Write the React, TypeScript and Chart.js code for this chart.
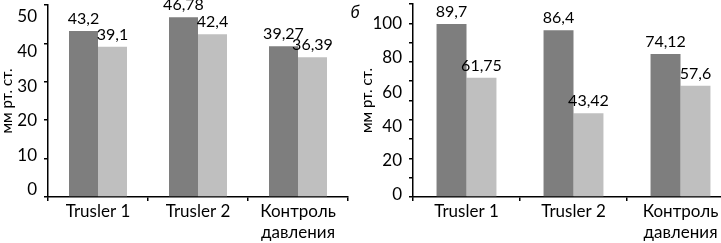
import React, { useEffect, useRef } from 'react';
import { Chart, registerables } from 'chart.js';

Chart.register(...registerables);

// ---- data ----
const categories: (string | string[])[] = ['Trusler 1', 'Trusler 2', ['Контроль', 'давления']];
const leftDark = [43.2, 46.78, 39.27];
const leftLight = [39.1, 42.4, 36.39];
const rightDark = [89.7, 86.4, 74.12];
const rightLight = [61.75, 43.42, 57.6];
const leftTickLabels = [0, 10, 20, 30, 40, 50];
const rightTickLabels = [0, 20, 40, 60, 80, 100];
const yTitle = 'мм рт. ст.';
const panelLetter = 'б';

// value ranges of the bar axes and of the (separately placed) tick label axes
const leftBarRange = { min: 0, max: 50, step: 10 };
const rightBarRange = { min: 0, max: 100, step: 10 };
const leftLabelRange = { min: -2.02, max: 53.47 };
const rightLabelRange = { min: -1.17, max: 111.3 };

const DARK = '#7e7e7e';
const LIGHT = '#bfbfbf';
const FONT = 'Lato';

const valueLabels = {
  id: 'valueLabels',
  afterDatasetsDraw(chart: any) {
    const ctx = chart.ctx;
    ctx.save();
    ctx.font = `16px ${FONT}`;
    ctx.fillStyle = '#000';
    ctx.textAlign = 'center';
    ctx.textBaseline = 'alphabetic';
    chart.data.datasets.forEach((ds: any, i: number) => {
      const meta = chart.getDatasetMeta(i);
      meta.data.forEach((el: any, j: number) => {
        const v = ds.data[j];
        ctx.fillText(String(v).replace('.', ','), el.x, el.y - 7);
      });
    });
    const letter = chart.options.plugins.panelLetter;
    if (letter && letter.text) {
      ctx.font = `italic 17px ${FONT}`;
      ctx.textAlign = 'center';
      ctx.fillText(letter.text, letter.x, letter.y);
    }
    ctx.restore();
  },
};

function buildConfig(opts: {
  dark: number[];
  light: number[];
  barRange: { min: number; max: number; step: number };
  labelRange: { min: number; max: number };
  tickLabels: number[];
  padding: any;
  outerWidth: number;
  catPct: number;
  letter?: { text: string; x: number; y: number };
}) {
  return {
    type: 'bar',
    data: {
      labels: categories,
      datasets: [
        {
          data: opts.dark,
          backgroundColor: DARK,
          borderWidth: 0,
          categoryPercentage: opts.catPct,
          barPercentage: 1.0,
          xAxisID: 'x',
          yAxisID: 'y',
        },
        {
          data: opts.light,
          backgroundColor: LIGHT,
          borderWidth: 0,
          categoryPercentage: opts.catPct,
          barPercentage: 1.0,
          xAxisID: 'x',
          yAxisID: 'y',
        },
      ],
    },
    options: {
      responsive: false,
      animation: false,
      devicePixelRatio: 1,
      layout: { padding: opts.padding },
      plugins: {
        legend: { display: false },
        tooltip: { enabled: false },
        title: { display: false },
        panelLetter: opts.letter || null,
      },
      scales: {
        x: {
          type: 'category',
          offset: true,
          grid: {
            offset: true,
            drawOnChartArea: false,
            drawTicks: true,
            tickLength: 4,
            color: '#000',
            lineWidth: 1.5,
          },
          border: { display: true, color: '#000', width: 1.5 },
          ticks: {
            color: '#000',
            font: { family: FONT, size: 17, lineHeight: 1.25 },
            padding: 0,
            maxRotation: 0,
            minRotation: 0,
            autoSkip: false,
          },
          afterFit: (s: any) => {
            s.height = 46;
            s.paddingLeft = 0;
            s.paddingRight = 0;
          },
        },
        y: {
          type: 'linear',
          position: 'left',
          weight: 0,
          min: opts.barRange.min,
          max: opts.barRange.max,
          ticks: { display: false, stepSize: opts.barRange.step },
          grid: {
            drawOnChartArea: false,
            drawTicks: true,
            tickLength: 4,
            color: '#000',
            lineWidth: 1.5,
          },
          border: { display: true, color: '#000', width: 1.5 },
          afterFit: (s: any) => {
            s.width = 5;
            s.paddingTop = 0;
            s.paddingBottom = 0;
          },
        },
        yl: {
          type: 'linear',
          position: 'left',
          weight: 1,
          min: opts.labelRange.min,
          max: opts.labelRange.max,
          grid: { display: false, drawTicks: false },
          border: { display: false },
          ticks: {
            color: '#000',
            font: { family: FONT, size: 17 },
            padding: 6,
          },
          afterBuildTicks: (s: any) => {
            s.ticks = opts.tickLabels.map((v) => ({ value: v }));
          },
          title: {
            display: true,
            text: yTitle,
            color: '#000',
            font: { family: FONT, size: 15, lineHeight: 1 },
            padding: 0,
          },
          afterFit: (s: any) => {
            s.width = opts.outerWidth;
            s.paddingTop = 0;
            s.paddingBottom = 0;
          },
        },
      },
    },
    plugins: [valueLabels],
  } as any;
}

function BarPanel(props: { left: number; width: number; config: any }) {
  const ref = useRef<HTMLCanvasElement | null>(null);
  useEffect(() => {
    if (!ref.current) return;
    const chart = new Chart(ref.current, props.config);
    return () => chart.destroy();
  }, []);
  return (
    <canvas
      ref={ref}
      width={props.width}
      height={243}
      style={{
        position: 'absolute',
        left: props.left,
        top: 0,
        width: props.width,
        height: 243,
      }}
    />
  );
}

export default function App() {
  const leftCfg = buildConfig({
    dark: leftDark,
    light: leftLight,
    barRange: leftBarRange,
    labelRange: leftLabelRange,
    tickLabels: leftTickLabels,
    padding: { left: 0, top: 5, right: 12, bottom: 0 },
    outerWidth: 43,
    catPct: 0.58,
  });
  const rightCfg = buildConfig({
    dark: rightDark,
    light: rightLight,
    barRange: rightBarRange,
    labelRange: rightLabelRange,
    tickLabels: rightTickLabels,
    padding: { left: 20, top: 4, right: 6, bottom: 0 },
    outerWidth: 48,
    catPct: 0.56,
    letter: { text: panelLetter, x: 15, y: 18 },
  });
  return (
    <div
      style={{
        position: 'fixed',
        left: 0,
        top: 0,
        width: 721,
        height: 243,
        overflow: 'hidden',
        background: '#fff',
      }}
    >
      <BarPanel left={0} width={360} config={leftCfg} />
      <BarPanel left={340} width={400} config={rightCfg} />
    </div>
  );
}
